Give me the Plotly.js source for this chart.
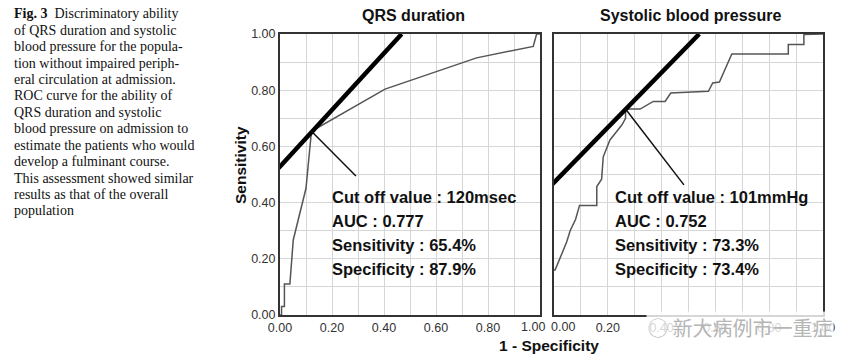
<!DOCTYPE html>
<html>
<head>
<meta charset="utf-8">
<script src="https://cdn.plot.ly/plotly-3.0.1.min.js"></script>
<style>
html,body{margin:0;padding:0;background:#fff;}
#chart{width:854px;height:364px;}
</style>
</head>
<body>
<div id="chart"></div>
<script>
// ---- Data ----
const panelTitles = ["QRS duration", "Systolic blood pressure"];
const xAxisLabel = "1 - Specificity";
const yAxisLabel = "Sensitivity";

// Tick values / labels
const tickVals = [0, 0.2, 0.4, 0.6, 0.8, 1.0];
const tickText = ["0.00", "0.20", "0.40", "0.60", "0.80", "1.00"];

// ROC curve: QRS duration (x = 1 - specificity, y = sensitivity)
const qrsX = [0, 0.006, 0.006, 0.017, 0.017, 0.038, 0.051, 0.100, 0.121, 0.404, 0.756, 0.974, 0.987, 1.0];
const qrsY = [0, 0, 0.03, 0.03, 0.11, 0.11, 0.267, 0.451, 0.654, 0.804, 0.915, 0.956, 1.0, 1.0];

// ROC curve: systolic blood pressure
const sbpX = [0, 0.004, 0.030, 0.047, 0.060, 0.080, 0.095, 0.159, 0.159, 0.177, 0.183, 0.208, 0.252, 0.266, 0.266, 0.320, 0.369, 0.413, 0.434, 0.574, 0.590, 0.615, 0.661, 0.871, 0.871, 0.929, 0.929, 1.0];
const sbpY = [0.16, 0.16, 0.22, 0.26, 0.30, 0.34, 0.39, 0.39, 0.457, 0.483, 0.563, 0.623, 0.676, 0.700, 0.733, 0.733, 0.760, 0.760, 0.790, 0.796, 0.826, 0.829, 0.929, 0.929, 0.963, 0.963, 0.998, 1.0];

// Tangent (thick) lines and pointer lines
const qrsTangentX = [-0.006, 0.468];
const qrsTangentY = [0.522, 1.0];
const qrsPointerX = [0.121, 0.292];
const qrsPointerY = [0.654, 0.495];

const sbpTangentX = [-0.009, 0.540];
const sbpTangentY = [0.463, 1.0];
const sbpPointerX = [0.266, 0.483];
const sbpPointerY = [0.733, 0.463];

// Stats text
const qrsStats = ["Cut off value : 120msec", "AUC : 0.777", "Sensitivity : 65.4%", "Specificity : 87.9%"];
const sbpStats = ["Cut off value : 101mmHg", "AUC : 0.752", "Sensitivity : 73.3%", "Specificity : 73.4%"];
const statsY = [0.42, 0.335, 0.249, 0.164];

const captionLines = [
  "<b>Fig. 3</b>  Discriminatory ability",
  "of QRS duration and systolic",
  "blood pressure for the popula-",
  "tion without impaired periph-",
  "eral circulation at admission.",
  "ROC curve for the ability of",
  "QRS duration and systolic",
  "blood pressure on admission to",
  "estimate the patients who would",
  "develop a fulminant course.",
  "This assessment showed similar",
  "results as that of the overall",
  "population"
];
const watermark = "新大病例市一重症";

// ---- Layout helpers ----
const W = 854, H = 364;
const px = v => v / W;
const py = v => 1 - v / H;
const SANS = "Liberation Sans, Arial, sans-serif";
const tickFont = {family: SANS, size: 12.5, color: "#333"};

const curveStyle = {color: "#555", width: 1.5};
const tangentStyle = {color: "#000", width: 4.5};
const pointerStyle = {color: "#111", width: 1.5};

const traces = [
  {x: qrsX, y: qrsY, xaxis: "x", yaxis: "y", mode: "lines", line: curveStyle},
  {x: qrsTangentX, y: qrsTangentY, xaxis: "x", yaxis: "y", mode: "lines", line: tangentStyle},
  {x: qrsPointerX, y: qrsPointerY, xaxis: "x", yaxis: "y", mode: "lines", line: pointerStyle},
  {x: sbpX, y: sbpY, xaxis: "x2", yaxis: "y2", mode: "lines", line: curveStyle},
  {x: sbpTangentX, y: sbpTangentY, xaxis: "x2", yaxis: "y2", mode: "lines", line: tangentStyle},
  {x: sbpPointerX, y: sbpPointerY, xaxis: "x2", yaxis: "y2", mode: "lines", line: pointerStyle}
];

function axisBase(extra) {
  return Object.assign({
    range: [0, 1],
    tickmode: "array",
    tickvals: tickVals,
    ticktext: tickText,
    showgrid: true,
    gridcolor: "#d6d6d6",
    gridwidth: 1,
    minor: {tickmode: "linear", tick0: 0, dtick: 0.1, showgrid: true, gridcolor: "#d6d6d6", gridwidth: 1},
    zeroline: false,
    showline: true,
    mirror: true,
    linecolor: "#333",
    linewidth: 2,
    ticks: "",
    tickfont: tickFont,
    fixedrange: true
  }, extra || {});
}

const yDom = [py(315), py(34)];

const annotations = [];
// Shared end-of-axis tick labels, nudged apart as in the reference
annotations.push({xref: "x", yref: "paper", x: tickVals[5], y: py(327), text: tickText[5], xshift: -7,
  showarrow: false, xanchor: "center", yanchor: "middle", font: tickFont});
annotations.push({xref: "x2", yref: "paper", x: tickVals[0], y: py(327), text: tickText[0], xshift: 9,
  showarrow: false, xanchor: "center", yanchor: "middle", font: tickFont});
// Panel titles
annotations.push({xref: "paper", yref: "paper", x: px(413), y: py(16), text: "<b>" + panelTitles[0] + "</b>",
  showarrow: false, xanchor: "center", yanchor: "middle", font: {family: SANS, size: 16, color: "#111"}});
annotations.push({xref: "paper", yref: "paper", x: px(690), y: py(16), text: "<b>" + panelTitles[1] + "</b>",
  showarrow: false, xanchor: "center", yanchor: "middle", font: {family: SANS, size: 16, color: "#111"}});
// Axis titles
annotations.push({xref: "paper", yref: "paper", x: px(241), y: py(165), text: "<b>" + yAxisLabel + "</b>", textangle: -90,
  showarrow: false, xanchor: "center", yanchor: "middle", font: {family: SANS, size: 15.5, color: "#111"}});
annotations.push({xref: "paper", yref: "paper", x: px(549), y: py(345), text: "<b>" + xAxisLabel + "</b>",
  showarrow: false, xanchor: "center", yanchor: "middle", font: {family: SANS, size: 15.5, color: "#111"}});
// Stats
qrsStats.forEach((t, i) => annotations.push({xref: "x", yref: "y", x: 0.193, y: statsY[i], text: "<b>" + t + "</b>",
  showarrow: false, xanchor: "left", yanchor: "middle", font: {family: SANS, size: 16.5, color: "#111"}}));
sbpStats.forEach((t, i) => annotations.push({xref: "x2", yref: "y2", x: 0.220, y: statsY[i], text: "<b>" + t + "</b>",
  showarrow: false, xanchor: "left", yanchor: "middle", font: {family: SANS, size: 16.5, color: "#111"}}));
// Caption
captionLines.forEach((t, i) => annotations.push({xref: "paper", yref: "paper", x: px(12), y: py(14 + i * 16.4), text: t,
  showarrow: false, xanchor: "left", yanchor: "middle", font: {family: "Liberation Serif, Times New Roman, serif", size: 14, color: "#111"}}));
// Watermark
annotations.push({xref: "paper", yref: "paper", x: px(740), y: py(327), text: "◯ " + watermark,
  showarrow: false, xanchor: "center", yanchor: "middle", bgcolor: "rgba(255,255,255,0.8)",
  font: {family: "Noto Sans CJK SC, sans-serif", size: 20, color: "#b5b5b5"}});

const layout = {
  width: W, height: H,
  margin: {l: 0, r: 0, t: 0, b: 0},
  paper_bgcolor: "#fff",
  plot_bgcolor: "#fff",
  showlegend: false,
  xaxis: axisBase({domain: [px(280), px(540)], anchor: "y", tickvals: tickVals.slice(0, 5), ticktext: tickText.slice(0, 5)}),
  yaxis: axisBase({domain: yDom, anchor: "x"}),
  xaxis2: axisBase({domain: [px(554), px(823)], anchor: "y2", tickvals: tickVals.slice(1), ticktext: tickText.slice(1)}),
  yaxis2: axisBase({domain: yDom, anchor: "x2", showticklabels: false}),
  annotations: annotations
};

Plotly.newPlot("chart", traces, layout, {staticPlot: true, displayModeBar: false});
</script>
</body>
</html>
